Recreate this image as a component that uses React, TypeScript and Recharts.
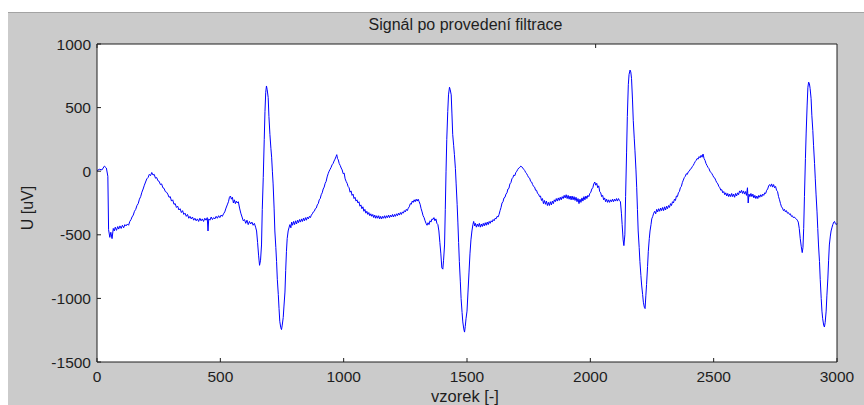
import { LineChart, Line, XAxis, YAxis, CartesianGrid } from 'recharts';

// osa x: vzorek [-], osa y: U [uV]
const xTicks = [0, 500, 1000, 1500, 2000, 2500, 3000];
const yTicks = [-1500, -1000, -500, 0, 500, 1000];

// [vzorek, U]
const usek1: [number, number][] = [
  [0, 5], [10, 15], [20, 10], [30, 40], [38, 25], [44, -40], [47, -460], [52, -520], [56, -480], [61, -530],
  [66, -450], [70, -470], [74, -440], [79, -465], [84, -435], [88, -455], [93, -430], [98, -450], [103, -425],
  [108, -445], [113, -420], [118, -430], [123, -415], [128, -425], [133, -395], [138, -380], [142, -360],
  [147, -345], [152, -315], [157, -300], [162, -270], [167, -255], [172, -220], [177, -200], [182, -165],
  [187, -140], [192, -110], [197, -85], [202, -60], [207, -50], [212, -25], [217, -35], [222, -10], [227, -30],
  [232, -25], [237, -55], [242, -50], [247, -75], [252, -80], [257, -105], [262, -100], [267, -130], [272, -135],
  [277, -160], [282, -165], [287, -180], [292, -205], [297, -200], [302, -235], [307, -225], [312, -260],
  [317, -255], [322, -285], [327, -275], [332, -305], [337, -295], [342, -325], [347, -310], [352, -340],
  [357, -330], [362, -355], [367, -340], [372, -370], [377, -355], [382, -375], [387, -360], [392, -385],
  [397, -370], [402, -390], [407, -375], [412, -395], [417, -370], [422, -390], [427, -375], [432, -395],
  [437, -370], [442, -385], [447, -365], [450, -470], [453, -375], [458, -385], [463, -360], [468, -380],
  [473, -365], [478, -375], [483, -355], [488, -370], [493, -350], [498, -365], [503, -345], [508, -355],
  [513, -335], [518, -320], [523, -290], [528, -265], [533, -240], [537, -205], [541, -195], [545, -220],
  [549, -205], [553, -250], [557, -225], [561, -255], [565, -235], [569, -250], [573, -240], [578, -290],
  [583, -330], [588, -360], [593, -390], [598, -380], [603, -410], [608, -385], [613, -420], [618, -395],
  [623, -415], [628, -400], [633, -425], [638, -410], [643, -440], [647, -470],
];

const usek2: [number, number][] = [
  [651, -560], [655, -660], [659, -740], [663, -700], [667, -580], [670, -300], [674, -50], [678, 250],
  [681, 470], [684, 620], [687, 670], [690, 640], [694, 580], [697, 430], [701, 290], [705, 180], [708, 110],
  [711, 0], [714, -100], [718, -290], [721, -470], [725, -600], [728, -710], [731, -850], [735, -970],
  [738, -1080], [741, -1180], [745, -1230], [748, -1245], [751, -1210], [755, -1150], [758, -1060],
  [762, -950], [765, -780], [768, -630], [771, -530], [775, -470], [779, -440], [782, -420], [786, -445],
  [789, -400], [793, -425], [797, -395], [801, -420], [805, -390], [809, -415], [813, -385], [817, -405],
  [821, -380], [825, -400], [829, -375], [833, -395], [837, -370], [841, -390], [845, -365], [849, -385],
  [853, -360], [857, -375], [861, -355], [865, -365], [869, -345], [873, -335], [877, -320], [881, -315],
  [885, -295], [889, -290], [893, -265], [897, -255], [901, -225], [905, -215], [909, -185], [913, -170],
  [917, -140], [921, -125], [925, -95], [929, -80], [933, -45], [937, -20], [941, 0], [945, 15], [949, 30],
  [953, 50], [957, 60], [961, 80], [965, 95], [969, 115], [972, 130], [975, 100], [978, 90], [982, 60],
  [986, 45], [990, 25], [994, 10], [998, -20], [1002, -15], [1006, -60], [1010, -80], [1014, -95],
  [1018, -120], [1022, -130], [1026, -165], [1030, -155], [1034, -190], [1038, -180], [1042, -215],
  [1046, -205], [1050, -235], [1054, -225], [1058, -250], [1062, -240], [1066, -275], [1070, -265],
  [1074, -295], [1078, -280], [1082, -315], [1086, -300], [1090, -330], [1094, -315], [1098, -340],
  [1102, -325], [1106, -350], [1110, -335], [1114, -355], [1118, -340], [1122, -365], [1126, -345],
  [1130, -370], [1134, -350], [1138, -370], [1142, -350], [1146, -375], [1150, -355], [1154, -375],
  [1158, -355], [1162, -370], [1166, -350], [1170, -370], [1174, -350], [1178, -365], [1182, -345],
  [1186, -365], [1190, -345], [1194, -360], [1198, -340], [1202, -360], [1206, -340], [1210, -355],
  [1214, -335], [1218, -350], [1222, -330], [1226, -345], [1230, -325], [1234, -340], [1238, -320],
  [1242, -330], [1246, -310], [1250, -320], [1254, -300], [1258, -310], [1262, -290], [1266, -280],
  [1270, -255], [1274, -260], [1278, -235], [1282, -245], [1286, -225], [1290, -240], [1294, -220],
  [1298, -235], [1302, -220], [1306, -240], [1310, -260], [1314, -295], [1318, -320], [1322, -350],
  [1326, -365], [1330, -390], [1334, -410], [1338, -425], [1342, -405], [1346, -420], [1350, -390],
  [1354, -400], [1358, -375], [1362, -380], [1366, -365], [1370, -390], [1374, -375], [1378, -410],
  [1382, -420], [1386, -470], [1390, -560], [1394, -650], [1398, -760], [1402, -770], [1405, -700],
  [1409, -580], [1412, -300], [1415, 0], [1418, 250], [1422, 470], [1425, 600], [1429, 660], [1432, 640],
  [1436, 600], [1439, 450], [1442, 290], [1446, 200], [1449, 130], [1453, 20], [1456, -100], [1460, -260],
  [1463, -400], [1466, -560], [1469, -710], [1473, -870], [1476, -1000], [1480, -1110], [1483, -1185],
  [1487, -1240], [1490, -1265], [1493, -1220], [1496, -1160],
];

const usek3: [number, number][] = [
  [1500, -1100], [1504, -950], [1508, -800], [1512, -650], [1516, -540], [1520, -470], [1524, -420],
  [1527, -395], [1531, -430], [1534, -410], [1538, -440], [1542, -415], [1546, -435], [1550, -410],
  [1554, -440], [1558, -415], [1562, -435], [1566, -410], [1570, -430], [1574, -405], [1578, -425],
  [1582, -400], [1586, -420], [1590, -395], [1594, -410], [1598, -390], [1602, -400], [1606, -380],
  [1610, -390], [1614, -370], [1618, -375], [1622, -355], [1626, -360], [1630, -340], [1634, -310],
  [1638, -285], [1642, -250], [1646, -240], [1650, -210], [1654, -205], [1658, -180], [1662, -170],
  [1666, -140], [1670, -135], [1674, -100], [1678, -90], [1682, -60], [1686, -50], [1690, -30], [1694, -35],
  [1698, -10], [1702, 0], [1706, 15], [1710, 25], [1714, 30], [1718, 40], [1722, 35], [1726, 25], [1730, 15],
  [1734, 5], [1738, -10], [1742, -20], [1746, -35], [1750, -50], [1754, -55], [1758, -80], [1762, -85],
  [1766, -105], [1770, -120], [1774, -125], [1778, -150], [1782, -150], [1786, -175], [1790, -180],
  [1794, -200], [1798, -195], [1802, -230], [1806, -215], [1810, -255], [1814, -230], [1818, -260],
  [1822, -235], [1826, -270], [1830, -245], [1834, -270], [1838, -240], [1842, -265], [1846, -235],
  [1850, -255], [1854, -225], [1858, -240], [1862, -215], [1866, -235], [1870, -210], [1874, -230],
  [1878, -205], [1882, -225], [1886, -200], [1890, -215], [1894, -190], [1898, -210], [1902, -185],
  [1906, -215], [1910, -190], [1914, -220], [1918, -195], [1922, -225], [1926, -195], [1930, -225],
  [1934, -200], [1938, -230], [1942, -205], [1946, -240], [1950, -215], [1954, -255], [1958, -220],
  [1962, -245], [1966, -210], [1970, -235], [1974, -200], [1978, -225], [1982, -195], [1986, -215],
  [1990, -190], [1994, -200], [1998, -175], [2002, -165], [2006, -140], [2010, -130], [2014, -100],
  [2018, -85], [2022, -110], [2026, -95], [2030, -130], [2034, -115], [2038, -160], [2042, -170],
  [2046, -200], [2050, -190], [2054, -225], [2058, -210], [2062, -240], [2066, -220], [2070, -245],
  [2074, -225], [2078, -245], [2082, -225], [2086, -240], [2090, -220], [2094, -240], [2098, -220],
  [2102, -235], [2106, -215], [2110, -235], [2114, -215], [2118, -230], [2122, -240], [2126, -330],
  [2129, -420], [2133, -540], [2136, -585], [2140, -500], [2143, -200], [2147, 150], [2150, 430],
  [2154, 680], [2157, 760], [2161, 795], [2164, 780], [2167, 730], [2171, 560], [2174, 400], [2178, 260],
  [2181, 160], [2185, 10], [2188, -130], [2191, -300], [2194, -470], [2198, -600], [2201, -710],
  [2205, -820], [2208, -895], [2212, -970], [2215, -1030], [2219, -1070], [2222, -1080], [2225, -980],
  [2228, -890], [2232, -750], [2235, -630], [2239, -530], [2242, -470], [2246, -420],
];

const usek4: [number, number][] = [
  [2249, -375], [2253, -355], [2257, -330], [2261, -315], [2265, -335], [2269, -300], [2273, -320],
  [2277, -295], [2281, -315], [2285, -290], [2289, -310], [2293, -285], [2297, -310], [2301, -280],
  [2305, -305], [2309, -275], [2313, -295], [2317, -270], [2321, -285], [2325, -255], [2329, -270],
  [2333, -240], [2337, -250], [2341, -220], [2345, -230], [2349, -195], [2353, -200], [2357, -170],
  [2361, -160], [2365, -130], [2369, -120], [2373, -90], [2377, -70], [2381, -50], [2385, -40], [2389, -20],
  [2393, -25], [2397, -5], [2401, 0], [2405, 15], [2409, 20], [2413, 35], [2417, 45], [2421, 60], [2425, 75],
  [2429, 85], [2433, 100], [2437, 95], [2441, 115], [2445, 105], [2449, 125], [2453, 110], [2457, 135],
  [2461, 100], [2465, 85], [2469, 60], [2473, 45], [2477, 30], [2481, 20], [2485, 0], [2489, -10],
  [2493, -20], [2497, -35], [2501, -50], [2505, -55], [2509, -75], [2513, -90], [2517, -100], [2521, -120],
  [2525, -130], [2529, -150], [2533, -145], [2537, -170], [2541, -160], [2545, -185], [2549, -170],
  [2553, -195], [2557, -175], [2561, -200], [2565, -180], [2569, -200], [2573, -175], [2577, -200],
  [2581, -180], [2585, -205], [2589, -175], [2593, -195], [2597, -170], [2601, -185], [2605, -155],
  [2609, -170], [2613, -150], [2617, -175], [2621, -155], [2625, -180], [2629, -160], [2633, -190],
  [2637, -130], [2640, -250], [2643, -180], [2647, -200], [2651, -175], [2655, -200], [2659, -180],
  [2663, -210], [2667, -190], [2671, -215], [2675, -195], [2679, -215], [2683, -190], [2687, -205],
  [2691, -185], [2695, -200], [2699, -180], [2703, -190], [2707, -170], [2711, -175], [2715, -150],
  [2719, -140], [2723, -115], [2727, -105], [2731, -120], [2735, -100], [2739, -125], [2743, -105],
  [2747, -130], [2751, -120], [2755, -150], [2759, -160], [2763, -200], [2767, -225], [2771, -255],
  [2775, -280], [2779, -290], [2783, -310], [2787, -300], [2791, -320], [2795, -310], [2799, -330],
  [2803, -325], [2807, -340], [2811, -335], [2815, -355], [2819, -350], [2823, -365], [2827, -360],
  [2831, -370], [2835, -375], [2839, -385], [2843, -400], [2847, -450], [2851, -530], [2855, -590],
  [2859, -640], [2862, -600], [2865, -450], [2868, -200], [2872, 100], [2875, 300], [2879, 520], [2882, 660],
  [2885, 700], [2888, 690], [2891, 650], [2895, 570], [2898, 440], [2902, 320], [2905, 200], [2909, 60],
  [2912, -60], [2915, -180], [2919, -320], [2922, -450], [2925, -580], [2929, -710], [2932, -850],
  [2936, -1000], [2939, -1100], [2942, -1160], [2946, -1210], [2949, -1225], [2952, -1190], [2956, -1100],
  [2959, -980], [2963, -840], [2966, -700], [2969, -580], [2973, -510], [2976, -470], [2980, -440],
  [2983, -420], [2987, -400], [2990, -395], [2993, -410], [2997, -420], [3000, -410],
];

const signal = [...usek1, ...usek2, ...usek3, ...usek4].map(([vzorek, u]) => ({ vzorek, u }));

const FONT = '"Liberation Sans", Arial, Helvetica, sans-serif';
const INK = '#1e1e1e';
const noLabel = () => '';

export default function App() {
  return (
    <div
      style={{
        position: 'absolute',
        left: 0,
        top: 0,
        width: 864,
        height: 405,
        background: '#ffffff',
        overflow: 'hidden',
        fontFamily: FONT,
      }}
    >
      {/* šedé pozadí okna */}
      <div
        style={{
          position: 'absolute',
          left: 8,
          top: 12,
          width: 856,
          height: 393,
          background: '#cbcbcb',
          borderTop: '1px solid #a3a3a3',
        }}
      />

      <div style={{ position: 'absolute', left: 0, top: 0 }}>
        <LineChart
          width={864}
          height={405}
          data={signal}
          margin={{ top: 40, right: 23, bottom: 0, left: 37 }}
        >
          <CartesianGrid fill="#ffffff" horizontal={false} vertical={false} xAxisId="bottom" yAxisId="left" />
          <XAxis
            xAxisId="bottom"
            dataKey="vzorek"
            type="number"
            domain={[0, 3000]}
            ticks={xTicks}
            interval={0}
            height={43}
            tickSize={-4}
            tickMargin={13}
            stroke={INK}
            tick={{ fill: INK, fontSize: 15.5, fontFamily: FONT }}
          />
          <XAxis
            xAxisId="top"
            orientation="top"
            type="number"
            domain={[0, 3000]}
            ticks={xTicks}
            interval={0}
            height={4}
            tickSize={-4}
            stroke={INK}
            tickFormatter={noLabel}
          />
          <YAxis
            yAxisId="left"
            type="number"
            domain={[-1500, 1000]}
            ticks={yTicks}
            interval={0}
            width={60}
            tickSize={-4}
            tickMargin={10}
            stroke={INK}
            tick={{ fill: INK, fontSize: 15.5, fontFamily: FONT }}
          />
          <YAxis
            yAxisId="right"
            orientation="right"
            type="number"
            domain={[-1500, 1000]}
            ticks={yTicks}
            interval={0}
            width={4}
            tickSize={-4}
            stroke={INK}
            tickFormatter={noLabel}
          />
          <Line
            xAxisId="bottom"
            yAxisId="left"
            type="linear"
            dataKey="u"
            stroke="#0000ff"
            strokeWidth={1}
            dot={false}
            isAnimationActive={false}
          />
        </LineChart>
      </div>

      {/* popisky */}
      <svg
        width={864}
        height={405}
        style={{ position: 'absolute', left: 0, top: 0, pointerEvents: 'none' }}
      >
        <text x={465.5} y={30} textAnchor="middle" fontSize={16} fill={INK} fontFamily={FONT}>
          Signál po provedení filtrace
        </text>
        <text x={465} y={402} textAnchor="middle" fontSize={16.5} fill={INK} fontFamily={FONT}>
          vzorek [-]
        </text>
        <text
          transform="translate(33,208) rotate(-90)"
          textAnchor="middle"
          fontSize={16}
          fill={INK}
          fontFamily={FONT}
        >
          U [uV]
        </text>
      </svg>
    </div>
  );
}
